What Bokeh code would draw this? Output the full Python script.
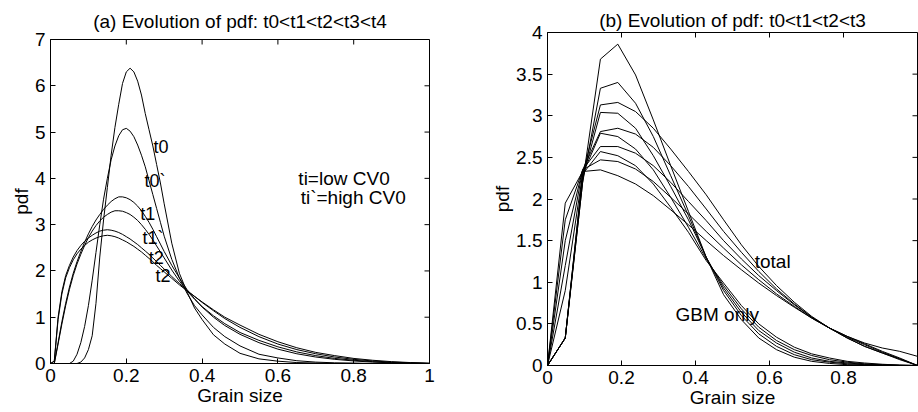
import math
from bokeh.plotting import figure
from bokeh.layouts import row, column
from bokeh.models import FixedTicker, Range1d
from bokeh.embed import file_html
from bokeh.resources import INLINE
from bokeh.core.properties import value

FONT = "Liberation Sans"

# ---------------- panel (a) data ----------------
XA = [0, .01, .02, .03, .04, .05, .06, .07, .08, .09,
      .10, .11, .12, .13, .14, .15, .16, .17, .18, .19,
      .20, .21, .22, .23, .24, .25, .26, .27, .28, .29,
      .30, .32, .34, .36, .38, .40, .43, .46, .50,
      .55, .60, .65, .70, .75, .80, .85, .90, .95, 1.0]

A_T0 = [0, 0, 0, 0, 0, 0, 0, 0, 0.03, 0.12,
        0.3, 0.6, 1.3, 2.3, 3.1, 3.8, 4.5, 5.1, 5.6, 6.05,
        6.3, 6.38, 6.3, 6.1, 5.8, 5.4, 5.05, 4.7, 4.3, 3.9,
        3.45, 2.6, 1.95, 1.55, 1.2, 0.95, 0.62, 0.42, 0.22,
        0.1, 0.05, 0.02, 0.01, 0, 0, 0, 0, 0, 0]
A_T0P = [0, 0, 0, 0, 0, 0, 0.05, 0.2, 0.45, 0.8,
         1.25, 1.8, 2.4, 3.0, 3.55, 4.0, 4.4, 4.7, 4.92, 5.05,
         5.08, 5.02, 4.9, 4.72, 4.5, 4.25, 3.95, 3.65, 3.35, 3.05,
         2.75, 2.25, 1.85, 1.52, 1.25, 1.05, 0.78, 0.58, 0.38,
         0.2, 0.12, 0.06, 0.03, 0.015, 0.01, 0, 0, 0, 0]
A_T1 = [0, 0, 0.45, 0.9, 1.3, 1.65, 1.95, 2.2, 2.42, 2.62,
        2.8, 2.96, 3.1, 3.22, 3.33, 3.42, 3.5, 3.56, 3.6, 3.6,
        3.58, 3.54, 3.48, 3.4, 3.3, 3.18, 3.05, 2.9, 2.74, 2.58,
        2.42, 2.12, 1.85, 1.6, 1.4, 1.22, 1.0, 0.82, 0.63,
        0.45, 0.31, 0.21, 0.14, 0.09, 0.055, 0.03, 0.015, 0.005, 0]
A_T1P = [0, 0, 0.42, 0.85, 1.25, 1.6, 1.9, 2.15, 2.36, 2.55,
         2.72, 2.86, 2.98, 3.08, 3.16, 3.22, 3.27, 3.3, 3.3, 3.29,
         3.26, 3.22, 3.16, 3.09, 3.0, 2.9, 2.79, 2.67, 2.54, 2.41,
         2.28, 2.02, 1.78, 1.57, 1.39, 1.23, 1.03, 0.86, 0.67,
         0.5, 0.36, 0.25, 0.17, 0.11, 0.07, 0.04, 0.02, 0.01, 0]
A_T2 = [0, 0.05, 1.0, 1.55, 1.9, 2.12, 2.3, 2.44, 2.55, 2.64,
        2.71, 2.77, 2.82, 2.86, 2.88, 2.89, 2.88, 2.86, 2.83, 2.79,
        2.74, 2.69, 2.63, 2.57, 2.5, 2.43, 2.36, 2.28, 2.2, 2.12,
        2.04, 1.88, 1.73, 1.58, 1.45, 1.32, 1.14, 0.97, 0.78,
        0.58, 0.42, 0.3, 0.21, 0.14, 0.09, 0.055, 0.03, 0.015, 0.005]
A_T2P = [0, 0.05, 0.95, 1.5, 1.85, 2.07, 2.24, 2.37, 2.47, 2.55,
         2.62, 2.67, 2.71, 2.74, 2.76, 2.77, 2.76, 2.74, 2.71, 2.67,
         2.63, 2.58, 2.53, 2.47, 2.41, 2.34, 2.27, 2.2, 2.12, 2.05,
         1.98, 1.84, 1.7, 1.57, 1.45, 1.33, 1.16, 1.0, 0.83,
         0.63, 0.47, 0.34, 0.24, 0.17, 0.11, 0.07, 0.04, 0.02, 0.005]

A_LABEL_TEXT = ["t0", "t0`", "t1", "t1`", "t2", "t2"]
A_LABEL_X = [0.272, 0.248, 0.237, 0.243, 0.259, 0.277]
A_LABEL_Y = [4.67, 3.95, 3.24, 2.72, 2.29, 1.90]
A_NOTE_TEXT = ["ti=low CV0", "ti`=high CV0"]
A_NOTE_X = [0.654, 0.66]
A_NOTE_Y = [4.0, 3.59]

A_XTICKS = [0, 0.2, 0.4, 0.6, 0.8, 1.0]
A_XTICK_LABELS = ["0", "0.2", "0.4", "0.6", "0.8", "1"]
A_YTICKS = [0, 1, 2, 3, 4, 5, 6, 7]
A_YTICK_LABELS = ["0", "1", "2", "3", "4", "5", "6", "7"]

# ---------------- panel (b) data ----------------
XB = [0, 0.048, 0.095, 0.143, 0.190, 0.238, 0.286, 0.333, 0.381, 0.429, 0.476,
      0.524, 0.571, 0.619, 0.667, 0.714, 0.762, 0.810, 0.857, 0.905, 0.952, 1.0]

B_GBM1 = [0, 0.33, 2.2, 3.68, 3.86, 3.49, 2.95, 2.4, 1.85, 1.3, 0.85,
          0.55, 0.33, 0.19, 0.1, 0.05, 0.025, 0.01, 0.005, 0, 0, 0]
B_GBM2 = [0, 0.33, 2.2, 3.33, 3.40, 3.15, 2.75, 2.28, 1.8, 1.3, 0.9,
          0.6, 0.38, 0.23, 0.13, 0.07, 0.04, 0.02, 0.01, 0.005, 0, 0]
B_GBM3 = [0, 0.33, 2.25, 3.04, 3.03, 2.85, 2.52, 2.15, 1.75, 1.3, 0.93,
          0.64, 0.42, 0.27, 0.16, 0.09, 0.05, 0.03, 0.015, 0.008, 0, 0]
B_GBM4 = [0, 0.33, 2.3, 2.79, 2.75, 2.6, 2.35, 2.02, 1.66, 1.28, 0.96,
          0.68, 0.46, 0.3, 0.19, 0.12, 0.07, 0.04, 0.02, 0.01, 0.005, 0]
B_GBM5 = [0, 0.33, 2.3, 2.57, 2.52, 2.4, 2.18, 1.9, 1.6, 1.26, 0.99,
          0.72, 0.5, 0.34, 0.22, 0.14, 0.09, 0.05, 0.03, 0.015, 0.005, 0]
B_TOT1 = [0, 0.9, 2.3, 3.13, 3.16, 3.05, 2.85, 2.6, 2.33, 2.05, 1.75,
          1.45, 1.19, 0.96, 0.76, 0.59, 0.45, 0.33, 0.23, 0.15, 0.07, 0.0]
B_TOT2 = [0, 1.2, 2.35, 2.81, 2.85, 2.78, 2.62, 2.4, 2.15, 1.88, 1.61,
          1.36, 1.13, 0.92, 0.74, 0.58, 0.45, 0.33, 0.23, 0.15, 0.08, 0.0]
B_TOT3 = [0, 1.5, 2.35, 2.63, 2.63, 2.55, 2.4, 2.2, 1.97, 1.74, 1.5,
          1.28, 1.08, 0.9, 0.73, 0.58, 0.45, 0.34, 0.25, 0.16, 0.08, 0.0]
B_TOT4 = [0, 1.75, 2.35, 2.47, 2.45, 2.36, 2.21, 2.02, 1.82, 1.61, 1.41,
          1.21, 1.03, 0.86, 0.71, 0.57, 0.45, 0.35, 0.26, 0.17, 0.09, 0.0]
B_TOT5 = [0, 1.95, 2.33, 2.35, 2.28, 2.18, 2.04, 1.87, 1.69, 1.5, 1.32,
          1.15, 0.99, 0.84, 0.70, 0.57, 0.45, 0.35, 0.27, 0.21, 0.17, 0.11]

B_LABEL_TEXT = ["total", "GBM only"]
B_LABEL_X = [0.56, 0.346]
B_LABEL_Y = [1.25, 0.61]

B_XTICKS = [0, 0.2, 0.4, 0.6, 0.8]
B_XTICK_LABELS = ["0", "0.2", "0.4", "0.6", "0.8"]
B_YTICKS = [0, 0.5, 1, 1.5, 2, 2.5, 3, 3.5, 4]
B_YTICK_LABELS = ["0", "0.5", "1", "1.5", "2", "2.5", "3", "3.5", "4"]

TITLE_A = "(a) Evolution of pdf: t0<t1<t2<t3<t4"
TITLE_B = "(b) Evolution of pdf: t0<t1<t2<t3"
XLABEL = "Grain size"
YLABEL = "pdf"
FS = "19px"


def make_fig(title, w, h, xr, yr, mbl, mbr, mbt, mbb, standoff, xt, xtl, yt, ytl):
    p = figure(width=w, height=h, x_range=Range1d(*xr), y_range=Range1d(*yr),
               output_backend="svg", toolbar_location=None,
               min_border_left=mbl, min_border_right=mbr,
               min_border_top=mbt, min_border_bottom=mbb,
               background_fill_color="white", border_fill_color="white")
    p.grid.visible = False
    p.outline_line_color = "black"
    p.outline_line_width = 1
    p.title.text = title
    p.title.align = "center"
    p.title.text_font = FONT
    p.title.text_font_size = FS
    p.title.text_font_style = "normal"
    p.title.text_color = "black"
    p.title.standoff = standoff
    for ax, ticks, labels, lab in ((p.xaxis[0], xt, xtl, XLABEL),
                                   (p.yaxis[0], yt, ytl, YLABEL)):
        ax.ticker = FixedTicker(ticks=ticks)
        ax.major_label_overrides = {float(t): s for t, s in zip(ticks, labels)}
        ax.major_tick_in = 5
        ax.major_tick_out = 0
        ax.minor_tick_in = 0
        ax.minor_tick_out = 0
        ax.major_label_text_font = FONT
        ax.major_label_text_font_size = FS
        ax.major_label_text_color = "black"
        ax.major_label_standoff = 5
        ax.axis_label = lab
        ax.axis_label_text_font = FONT
        ax.axis_label_text_font_size = FS
        ax.axis_label_text_font_style = "normal"
        ax.axis_label_text_color = "black"
        ax.axis_label_standoff = 0
        ax.axis_line_color = "black"
        ax.major_tick_line_color = "black"
    # mirrored inward tick marks on the top and right edges of the box
    p.ray(x=xt, y=[yr[1]] * len(xt), length=5, length_units="screen",
          angle=-math.pi / 2, line_color="black", line_width=1)
    p.ray(x=[xr[1]] * len(yt), y=yt, length=5, length_units="screen",
          angle=math.pi, line_color="black", line_width=1)
    return p


pa = make_fig(TITLE_A, 476, 410, (0, 1), (0, 7), 50, 47, 39, 47, 16,
              A_XTICKS, A_XTICK_LABELS, A_YTICKS, A_YTICK_LABELS)
for ys in (A_T0, A_T0P, A_T1, A_T1P, A_T2, A_T2P):
    pa.line(XA, ys, line_color="black", line_width=1)
pa.text(x=A_LABEL_X, y=A_LABEL_Y, text=A_LABEL_TEXT, text_font=value(FONT),
        text_font_size=value("18px"), text_baseline="alphabetic", text_align="left",
        text_color="black")
pa.text(x=A_NOTE_X, y=A_NOTE_Y, text=A_NOTE_TEXT, text_font=value(FONT),
        text_font_size=value(FS), text_baseline="alphabetic", text_align="left",
        text_color="black")

pb = make_fig(TITLE_B, 442, 410, (0, 1), (0, 4), 71, 1, 32, 44, 4,
              B_XTICKS, B_XTICK_LABELS, B_YTICKS, B_YTICK_LABELS)
for ys in (B_GBM1, B_GBM2, B_GBM3, B_GBM4, B_GBM5,
           B_TOT1, B_TOT2, B_TOT3, B_TOT4, B_TOT5):
    pb.line(XB, ys, line_color="black", line_width=1)
pb.text(x=B_LABEL_X, y=B_LABEL_Y, text=B_LABEL_TEXT, text_font=value(FONT),
        text_font_size=value(FS), text_baseline="alphabetic", text_align="left",
        text_color="black")

# each panel in its own column so the two boxes keep their own vertical extents
layout = row(column(pa), column(pb))
open("out.html", "w").write(file_html(layout, INLINE))
